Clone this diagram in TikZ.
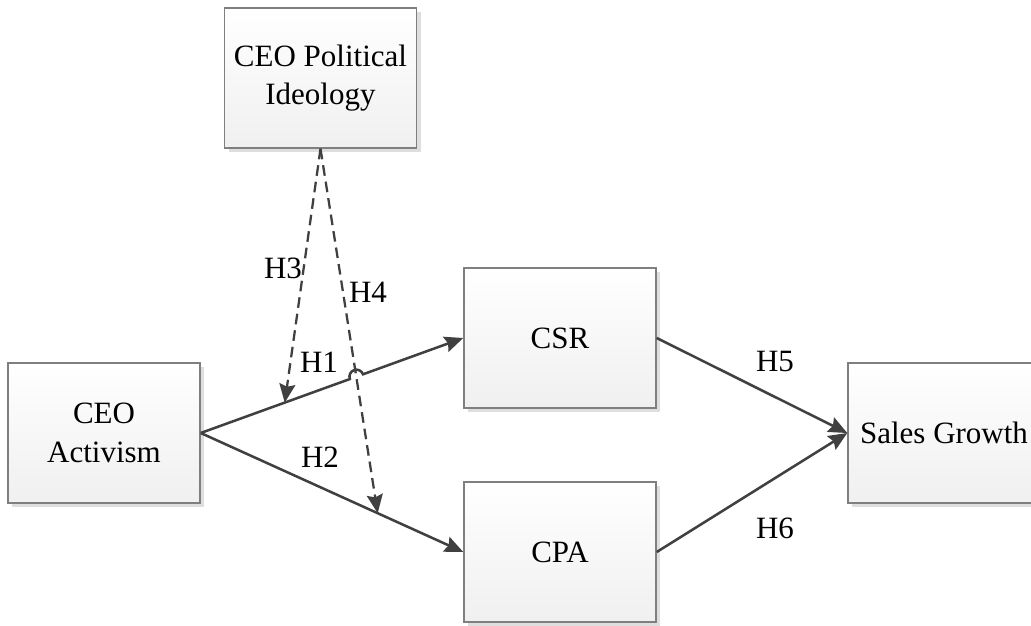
\documentclass[tikz,border=0pt]{standalone}
\usepackage{fontspec}
\setmainfont{Liberation Serif}
\usetikzlibrary{arrows.meta,calc,shadows}
\definecolor{darkline}{HTML}{404040}
\definecolor{boxline}{HTML}{7F7F7F}

\begin{document}
\begin{tikzpicture}[x=0.75pt,y=0.75pt,>={Stealth[length=14pt,width=12pt,inset=2pt]},
                    main node/.style={rectangle,draw=boxline,line width=1.1pt,top color=white,bottom color=black!6,
                      minimum width=144pt,minimum height=105pt,align=center,font=\fontsize{23.25}{29}\selectfont,
                      drop shadow={shadow xshift=3pt,shadow yshift=-3pt,fill=black!13,opacity=1}},
                    link/.style={->,draw=darkline,line width=1.9pt},
                    dash link/.style={->,draw=darkline,line width=1.7pt,dash pattern=on 8pt off 4.5pt},
                    hyp/.style={font=\fontsize{23.25}{29}\selectfont}]
  \useasboundingbox (0,0) rectangle (1031,625);
  \node[main node] (pol) at (320.5,547) {CEO Political\\Ideology};
  \node[main node] (act) at (104,192) {CEO\\Activism};
  \node[main node] (csr) at (560,287) {CSR};
  \node[main node] (cpa) at (560,73) {CPA};
  \node[main node] (sg) at (944,192) {Sales Growth};
  % H1 hops over the dashed H4 line
  \draw[link] (act.east) -- ($(act.east)!0.568!(csr.west)$)
    arc[start angle=199.8,end angle=19.8,radius=5.25pt] -- (csr.west);
  \path (act.east) edge [link] (cpa.west)
        (csr.east) edge [link] (sg.west)
        (cpa.east) edge [link] (sg.west);
  \draw[dash link] (pol.south) -- ($(act.east)!0.32!(csr.west)$);
  \draw[dash link] (pol.south) -- ($(act.east)!0.674!(cpa.west)$);
  \node[hyp] (h1) at (319,263) {H1};
  \node[hyp] (h2) at (320,168) {H2};
  \node[hyp] (h3) at (283,357) {H3};
  \node[hyp] (h4) at (368,333) {H4};
  \node[hyp] (h5) at (775,263) {H5};
  \node[hyp] (h6) at (775,97) {H6};
\end{tikzpicture}
\end{document}
